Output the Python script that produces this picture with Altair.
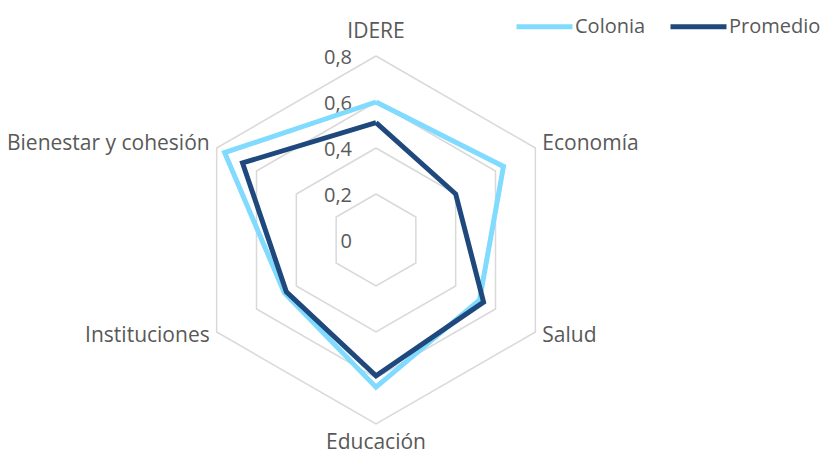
import altair as alt
import pandas as pd

# ---- data ----
categories = ["IDERE", "Economía", "Salud", "Educación", "Instituciones", "Bienestar y cohesión"]
colonia = [0.60, 0.64, 0.52, 0.64, 0.46, 0.76]
promedio = [0.51, 0.40, 0.54, 0.59, 0.45, 0.67]
series_names = ["Colonia", "Promedio"]
series_colors = ["#80DBFF", "#1F497D"]
grid_levels = [0.2, 0.4, 0.6, 0.8]
tick_values = [0, 0.2, 0.4, 0.6, 0.8]
tick_labels = ["0", "0,2", "0,4", "0,6", "0,8"]

# ---- layout ----
W, H = 823, 446
CX, CY, PPU = 368, 232, 230
FONT = "Open Sans"
TXT = "#595959"
N = len(categories)

xscale = alt.Scale(domain=[-CX / PPU, (W - CX) / PPU], nice=False, zero=False)
yscale = alt.Scale(domain=[-(H - CY) / PPU, CY / PPU], nice=False, zero=False)

# series table (closed polygons)
rows = []
for s, vals in zip(series_names, [colonia, promedio]):
    for k in range(N + 1):
        rows.append({"series": s, "idx": k % N, "ord": k, "value": vals[k % N]})
series_df = pd.DataFrame(rows)

grid_rows = []
for lv in grid_levels:
    for k in range(N + 1):
        grid_rows.append({"level": lv, "idx": k % N, "ord": k, "value": lv})
grid_df = pd.DataFrame(grid_rows)

cat_df = pd.DataFrame({"cat": categories, "idx": list(range(N)), "value": [0.835] * N})
tick_df = pd.DataFrame({"v": tick_values, "label": tick_labels})

ang = "PI/2 - 2*PI*datum.idx/%d" % N
def polar(ch):
    return ch.transform_calculate(a=ang).transform_calculate(
        px="datum.value*cos(datum.a)", py="datum.value*sin(datum.a)")

X = alt.X("px:Q", scale=xscale, axis=None)
Y = alt.Y("py:Q", scale=yscale, axis=None)

grid = polar(alt.Chart(grid_df)).mark_line(color="#D9D9D9", strokeWidth=1.5).encode(
    x=X, y=Y, order="ord:Q", detail="level:N")

lines = polar(alt.Chart(series_df)).mark_line(strokeWidth=5, strokeJoin="miter").encode(
    x=X, y=Y, order="ord:Q",
    color=alt.Color("series:N", scale=alt.Scale(domain=series_names, range=series_colors),
                    legend=alt.Legend(title=None, orient="none", direction="horizontal",
                                      legendX=506, legendY=-12, symbolType="stroke",
                                      symbolSize=3136, symbolStrokeWidth=5,
                                      labelFont=FONT, labelFontSize=20, labelColor=TXT,
                                      labelOffset=0, columnPadding=14, padding=0,
                                      symbolOffset=0)))

ticks = alt.Chart(tick_df).mark_text(font=FONT, fontSize=20, color=TXT, align="right",
                                     baseline="middle", dx=-24, dy=2).encode(
    x=alt.X("zero:Q", scale=xscale, axis=None), y=alt.Y("v:Q", scale=yscale, axis=None),
    text="label:N").transform_calculate(zero="0")

base_lab = polar(alt.Chart(cat_df))
def lab(filt, **kw):
    return base_lab.transform_filter(filt).mark_text(font=FONT, fontSize=21, color=TXT,
                                                     baseline="middle", **kw).encode(
        x=X, y=Y, text="cat:N")

labels = [
    lab("datum.idx == 0", align="center", dy=-16),
    lab("datum.idx == 3", align="center", dy=11),
    lab("datum.idx == 1 || datum.idx == 2", align="left", dx=0),
    lab("datum.idx == 4 || datum.idx == 5", align="right", dx=0),
]

chart = alt.layer(grid, ticks, lines, *labels).properties(
    width=W, height=H, padding=0, autosize=alt.AutoSizeParams(type="none")
).configure_view(stroke=None)

chart.save("out.html", embed_options={"renderer": "svg", "actions": False})
